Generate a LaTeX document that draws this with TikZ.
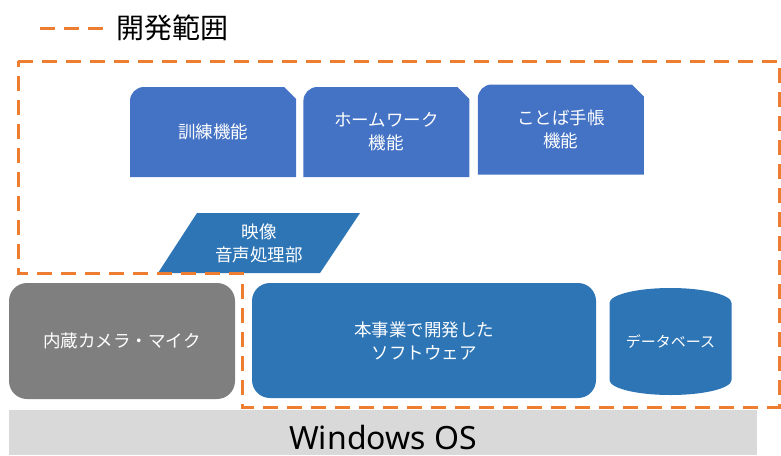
\documentclass[tikz,border=0pt]{standalone}
\usepackage{fontspec}
\setmainfont{Noto Sans CJK JP}
\newfontfamily\osfont{Noto Sans}
\usetikzlibrary{positioning}
\definecolor{devorange}{HTML}{ED7D31}
\definecolor{funcblue}{HTML}{4472C4}
\definecolor{swblue}{HTML}{2E75B6}
\definecolor{camgray}{HTML}{7F7F7F}
\definecolor{osgray}{HTML}{D9D9D9}
\tikzset{
  devline/.style={devorange, line width=3pt, dash pattern=on 15pt off 9pt},
  boxtext/.style={text=white, align=center, inner sep=2pt,
    font=\fontsize{17.5}{23}\selectfont},
  funcbox/.style={boxtext, minimum width=166pt, minimum height=90pt,
    path picture={\fill[funcblue] (path picture bounding box.south west)
      -- ([yshift=-14pt]path picture bounding box.north west)
      arc[start angle=180, end angle=90, radius=14pt]
      -- ([xshift=-12pt]path picture bounding box.north east)
      -- ([yshift=-12pt]path picture bounding box.north east)
      -- (path picture bounding box.south east) -- cycle;}},
  procbox/.style={boxtext, minimum width=202pt, minimum height=60pt,
    path picture={\fill[swblue] (path picture bounding box.south west)
      -- ([xshift=-40pt]path picture bounding box.south east)
      -- (path picture bounding box.north east)
      -- ([xshift=39pt]path picture bounding box.north west) -- cycle;}},
  camerabox/.style={boxtext, fill=camgray, rounded corners=18pt,
    minimum width=226pt, minimum height=116pt},
  swbox/.style={boxtext, fill=swblue, rounded corners=18pt,
    minimum width=344pt, minimum height=115pt},
  dbbox/.style={boxtext, font=\fontsize{15}{20}\selectfont,
    minimum width=122pt, minimum height=107pt,
    path picture={\fill[swblue] ([yshift=15pt]path picture bounding box.south west)
      arc[start angle=180, end angle=360, x radius=61pt, y radius=15pt]
      -- ([yshift=-15pt]path picture bounding box.north east)
      arc[start angle=0, end angle=180, x radius=61pt, y radius=15pt] -- cycle;}},
  osbar/.style={fill=osgray, minimum width=748pt, minimum height=45pt,
    inner sep=0pt, text height=33pt, text depth=0pt,
    font=\osfont\fontsize{32}{38}\selectfont}
}
\begin{document}
\begin{tikzpicture}[x=1pt, y=1pt]
  \useasboundingbox (0,0) rectangle (781,-455);
  \coordinate (leg-start) at (40,-28);
  \node[anchor=west, inner sep=8pt, font=\fontsize{28}{32}\selectfont] (leg-label) at (108,-28) {開発範囲};
  \draw[devline, shorten >=5pt] (leg-start) -- (leg-label);

  \node[funcbox] (train-box) at (213,-132) {訓練機能};
  \node[funcbox, right=7pt of train-box] (homework-box) {ホームワーク\\機能};
  \node[funcbox, right=8pt of homework-box, yshift=2.5pt] (notebook-box) {ことば手帳\\機能};

  \node[procbox] (av-proc) at (259,-243) {映像\\音声処理部};

  \node[camerabox] (camera-box) at (122,-341) {内蔵カメラ・マイク};
  \node[swbox] (sw-box) at (424,-340.5) {本事業で開発した\\ソフトウェア};
  \node[dbbox] (db-cyl) at (670.5,-341.5) {データベース};

  \node[osbar] (os-bar) at (383,-432.5) {Windows OS};

  \draw[devline] (18,-61) -- (779,-61) -- (779,-407) -- (242,-407)
    -- (242,-273) -- (18,-273) -- cycle;
\end{tikzpicture}
\end{document}
